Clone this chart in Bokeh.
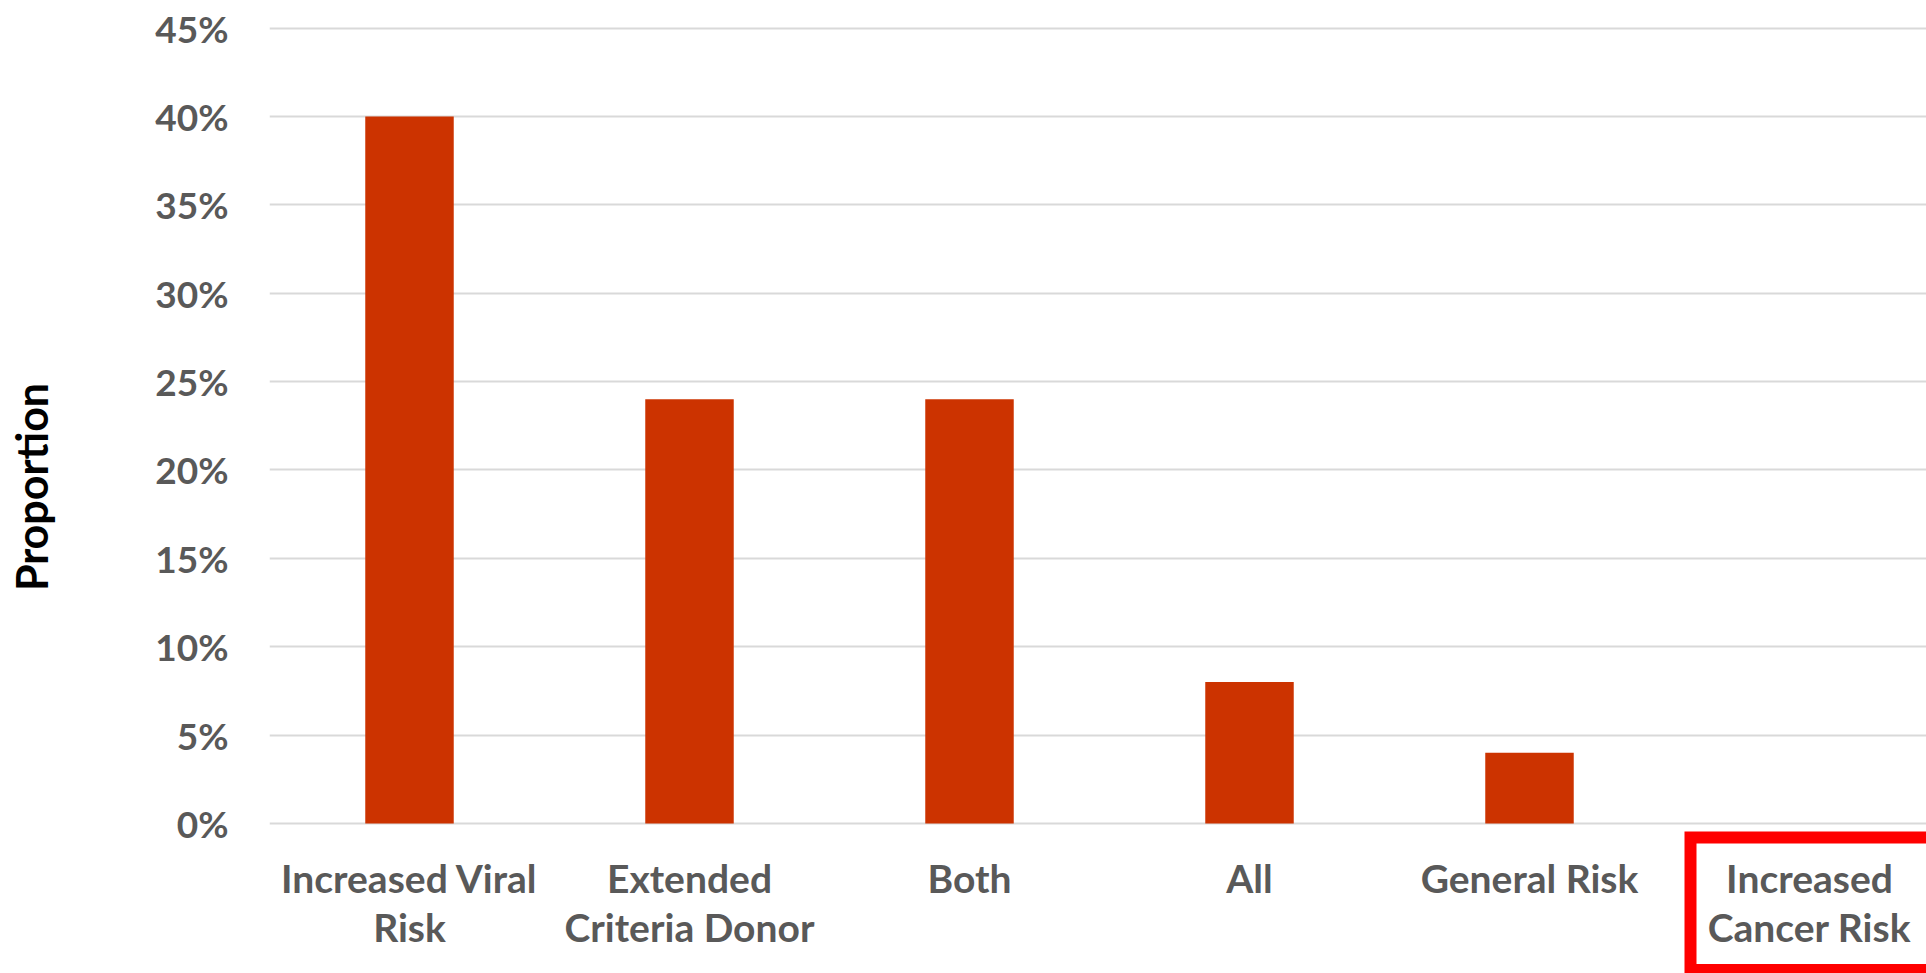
from bokeh.plotting import figure
from bokeh.models import Range1d, FixedTicker, NumeralTickFormatter, ColumnDataSource
from bokeh.core.properties import value
from bokeh.embed import file_html
from bokeh.resources import INLINE

categories = ["Increased Viral\nRisk", "Extended\nCriteria Donor", "Both", "All", "General Risk", "Increased\nCancer Risk"]
proportions = [0.40, 0.24, 0.24, 0.08, 0.04, 0.0]
y_ticks = [0.0, 0.05, 0.10, 0.15, 0.20, 0.25, 0.30, 0.35, 0.40, 0.45]
y_title = "Proportion"
highlight_index = 5

FONT = "Lato"
GREY = "#595959"

W, H = 1926, 973
left_border, top_border = 269, 0
px_per_unit = 1767.6          # vertical pixels per 100 %
zero_px = 823                 # screen row of the 0 % line
y_start = (zero_px - H) / px_per_unit
y_end = (zero_px - top_border) / px_per_unit
x_end = (W - left_border) / 280.0

label_y = (zero_px - 854) / px_per_unit          # top of category labels
box_top = (zero_px - 837) / px_per_unit
box_bottom = (zero_px - 969.5) / px_per_unit

x_pos = [i + 0.5 for i in range(len(categories))]
src = ColumnDataSource(dict(x=x_pos, top=proportions))
lab = ColumnDataSource(dict(x=x_pos, y=[label_y] * len(x_pos), text=categories))

p = figure(width=W, height=H, output_backend="svg", toolbar_location=None,
           x_range=Range1d(0, x_end), y_range=Range1d(y_start, y_end),
           min_border_left=left_border, min_border_right=0,
           min_border_top=top_border, min_border_bottom=0)
p.outline_line_color = None
p.background_fill_color = "white"
p.border_fill_color = "white"
p.xaxis.visible = False

p.vbar(x="x", top="top", bottom=0, width=0.316, source=src,
       fill_color="#CC3300", line_color=None)

# y axis
p.yaxis.ticker = FixedTicker(ticks=y_ticks)
p.yaxis.formatter = NumeralTickFormatter(format="0%")
p.yaxis.axis_line_color = None
p.yaxis.major_tick_line_color = None
p.yaxis.minor_tick_line_color = None
p.yaxis.major_label_standoff = 35
p.yaxis.major_label_text_font = FONT
p.yaxis.major_label_text_font_style = "bold"
p.yaxis.major_label_text_font_size = "37px"
p.yaxis.major_label_text_color = GREY
p.yaxis.axis_label = y_title
p.yaxis.axis_label_standoff = 95
p.yaxis.axis_label_text_font = FONT
p.yaxis.axis_label_text_font_style = "bold"
p.yaxis.axis_label_text_font_size = "43px"
p.yaxis.axis_label_text_color = "black"

p.xgrid.grid_line_color = None
p.ygrid.ticker = FixedTicker(ticks=y_ticks)
p.ygrid.grid_line_color = "#D9D9D9"
p.ygrid.grid_line_width = 2

# category labels
p.text(x="x", y="y", text="text", source=lab, text_align="center", text_baseline="top",
       text_font=value(FONT), text_font_style="bold", text_font_size="39px",
       text_color=GREY, text_line_height=1.07)

# highlight box around the last category
hx = x_pos[highlight_index]
p.quad(left=hx - 0.425, right=hx + 1.0, bottom=box_bottom, top=box_top,
       fill_color=None, line_color="#FF0000", line_width=12, line_join="miter")

open("out.html", "w").write(file_html(p, INLINE))
